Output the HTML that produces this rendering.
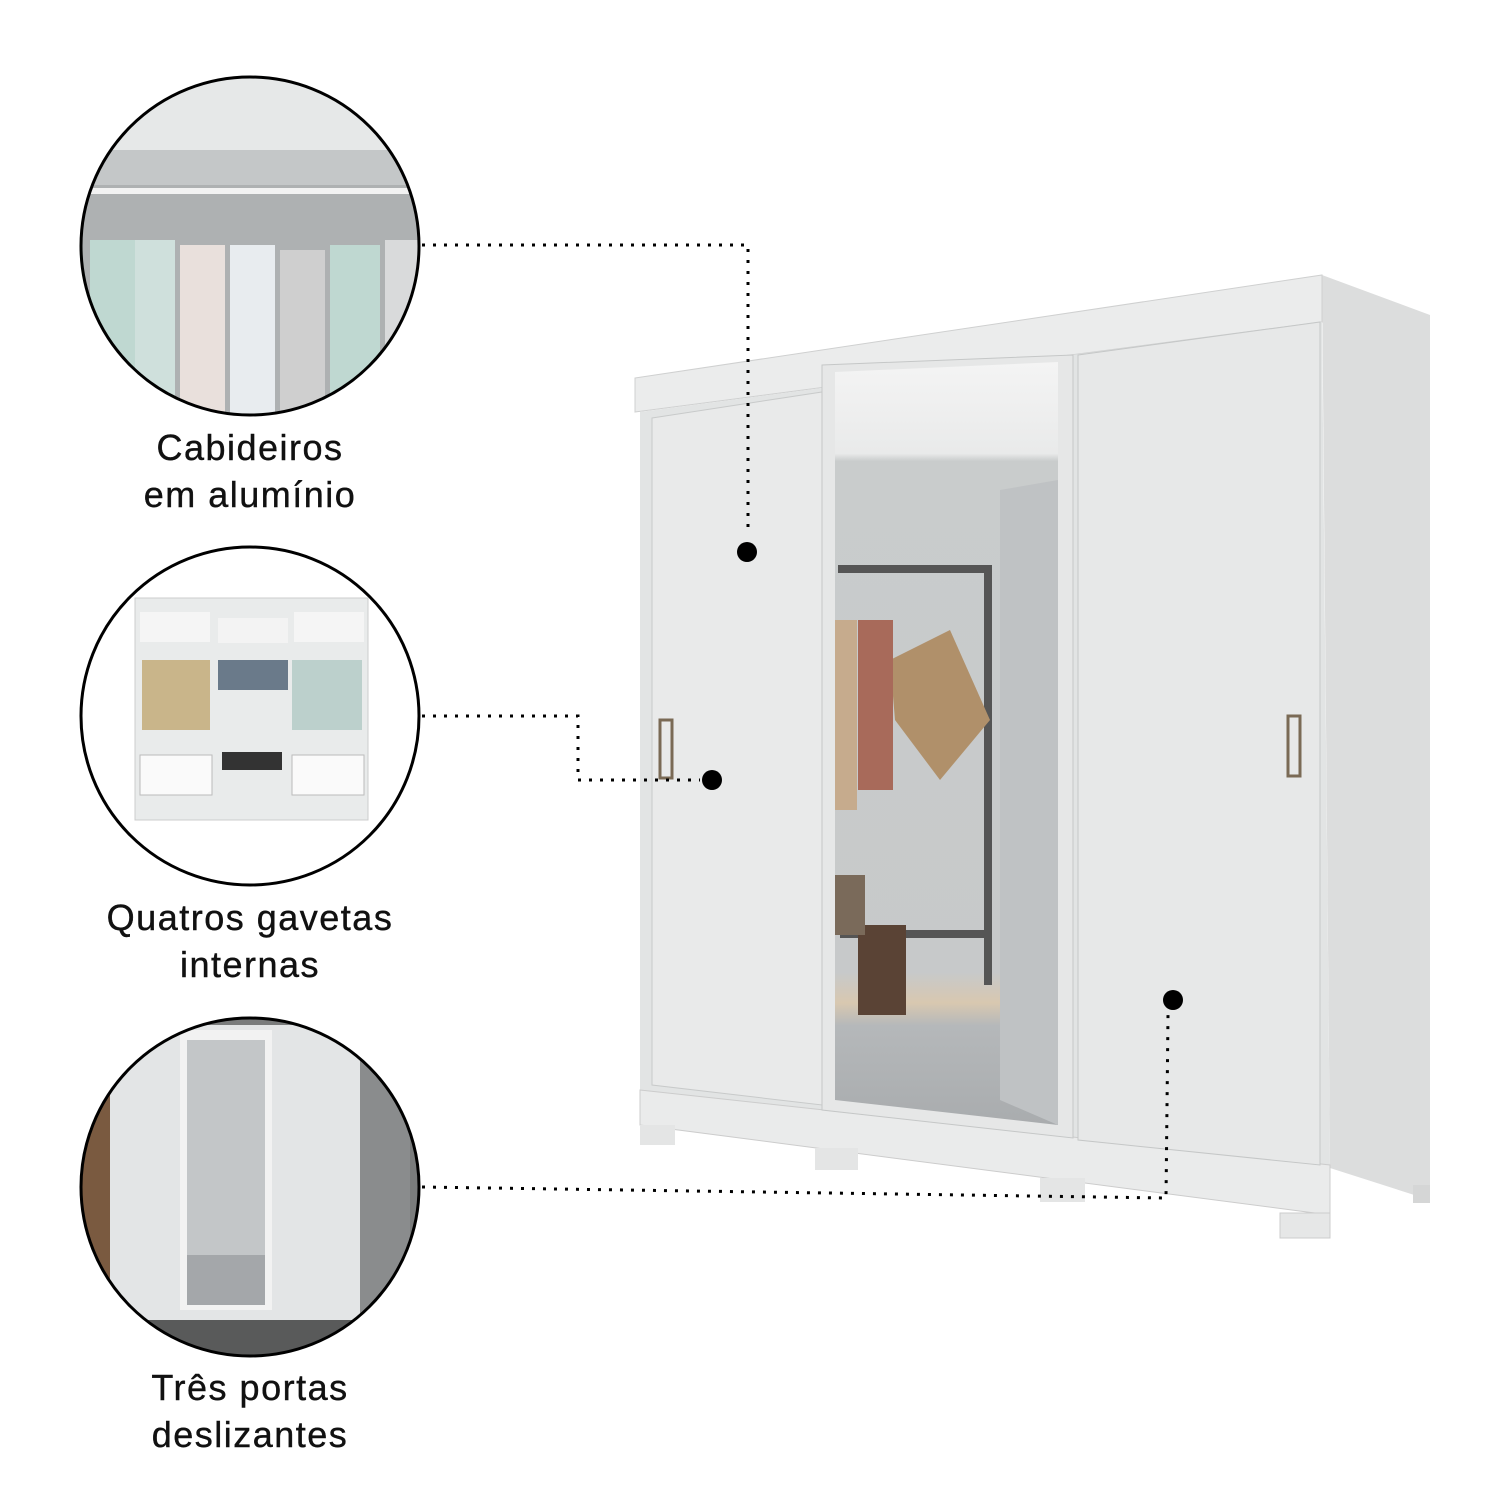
<!DOCTYPE html>
<html><head><meta charset="utf-8"><style>
html,body{margin:0;padding:0;background:#fff}
.l{position:absolute;width:500px;text-align:center;font-family:"Liberation Sans",sans-serif;font-size:36px;line-height:47px;color:#111;letter-spacing:1.5px;-webkit-text-stroke:0.4px #111}
</style></head><body>
<div style="position:relative;width:1500px;height:1500px;overflow:hidden">
<svg width="1500" height="1500" viewBox="0 0 1500 1500" style="position:absolute;left:0;top:0">
<defs>
<clipPath id="c1"><circle cx="250" cy="246" r="169"/></clipPath>
<clipPath id="c2"><circle cx="250" cy="716" r="169"/></clipPath>
<clipPath id="c3"><circle cx="250" cy="1187" r="169"/></clipPath>
<linearGradient id="mir" x1="0" y1="0" x2="0" y2="1">
<stop offset="0" stop-color="#f4f4f4"/><stop offset="0.12" stop-color="#e9eaea"/><stop offset="0.13" stop-color="#c9cccc"/><stop offset="0.8" stop-color="#c7c9ca"/><stop offset="0.84" stop-color="#d8c8b0"/><stop offset="0.87" stop-color="#b5b8ba"/><stop offset="1" stop-color="#a9acae"/></linearGradient>
</defs>
<g clip-path="url(#c1)">
<rect x="60" y="60" width="380" height="380" fill="#aeb1b2"/>
<rect x="60" y="60" width="380" height="90" fill="#e6e8e8"/>
<rect x="60" y="150" width="380" height="35" fill="#c4c7c8"/>
<rect x="60" y="188" width="380" height="6" fill="#f2f2f2"/>
<g fill="#bfd8d1"><rect x="90" y="240" width="45" height="180"/><rect x="135" y="240" width="40" height="180" fill="#cfe0dc"/><rect x="180" y="245" width="45" height="180" fill="#e9e0dc"/><rect x="230" y="245" width="45" height="180" fill="#e8ecef"/><rect x="280" y="250" width="45" height="180" fill="#cfcfcf"/><rect x="330" y="245" width="50" height="180"/><rect x="385" y="240" width="40" height="180" fill="#d9dadb"/></g>
</g>
<circle cx="250" cy="246" r="169" fill="none" stroke="#000" stroke-width="3"/>
<g clip-path="url(#c2)">
<rect x="60" y="530" width="380" height="380" fill="#fff"/>
<rect x="135" y="598" width="233" height="222" fill="#e9ebeb" stroke="#ccc"/>
<rect x="140" y="612" width="70" height="30" fill="#f5f5f5"/><rect x="218" y="618" width="70" height="25" fill="#f3f3f3"/><rect x="294" y="612" width="70" height="30" fill="#f5f5f5"/>
<rect x="142" y="660" width="68" height="70" fill="#c9b58a"/><rect x="292" y="660" width="70" height="70" fill="#bcd0cc"/>
<rect x="218" y="660" width="70" height="30" fill="#6a7a8a"/>
<rect x="140" y="755" width="72" height="40" fill="#fafafa" stroke="#bbb"/><rect x="292" y="755" width="72" height="40" fill="#fafafa" stroke="#bbb"/>
<rect x="222" y="752" width="60" height="18" fill="#333"/>
</g>
<circle cx="250" cy="716" r="169" fill="none" stroke="#000" stroke-width="3"/>
<g clip-path="url(#c3)">
<rect x="60" y="1000" width="380" height="380" fill="#7a7c7c"/>
<rect x="80" y="1000" width="40" height="380" fill="#7a5a40"/>
<rect x="110" y="1025" width="290" height="320" fill="#e3e5e6"/>
<rect x="180" y="1030" width="92" height="280" fill="#f2f2f2"/>
<rect x="187" y="1040" width="78" height="265" fill="#c3c6c8"/>
<rect x="187" y="1255" width="78" height="50" fill="#a4a7aa"/>
<rect x="360" y="1025" width="50" height="320" fill="#8a8c8d"/>
<rect x="60" y="1320" width="380" height="60" fill="#595a5a"/>
</g>
<circle cx="250" cy="1187" r="169" fill="none" stroke="#000" stroke-width="3"/>
<polygon points="1322,275 1430,315 1430,1200 1330,1168" fill="#dcdddd"/>
<polygon points="635,378 1322,275 1322,322 635,412" fill="#ebecec" stroke="#cfd0d0"/>
<polygon points="640,412 1322,322 1330,1168 1330,1215 640,1125" fill="#e2e4e4"/>
<polygon points="640,1090 1330,1165 1330,1215 640,1125" fill="#eaebeb" stroke="#ccc"/>
<rect x="640" y="1125" width="35" height="20" fill="#e4e5e5"/>
<rect x="815" y="1148" width="43" height="22" fill="#e4e5e5"/>
<rect x="1040" y="1178" width="45" height="24" fill="#e4e5e5"/>
<rect x="1280" y="1213" width="50" height="25" fill="#e6e7e7" stroke="#ccc"/>
<rect x="1413" y="1185" width="17" height="18" fill="#d5d6d6"/>
<polygon points="652,418 822,392 822,1105 652,1085" fill="#e9eaea" stroke="#c8caca"/>
<polygon points="822,365 1073,355 1073,1138 822,1110" fill="#e6e7e7" stroke="#c5c7c7"/>
<polygon points="835,372 1058,362 1058,1125 835,1100" fill="url(#mir)"/>
<polygon points="1000,490 1058,480 1058,1125 1000,1100" fill="#bfc2c4"/>
<polygon points="1078,355 1320,322 1320,1165 1078,1140" fill="#e7e8e8" stroke="#c5c7c7"/>
<rect x="838" y="565" width="150" height="8" fill="#555"/>
<rect x="984" y="565" width="8" height="420" fill="#555"/>
<rect x="840" y="930" width="150" height="8" fill="#555"/>
<polygon points="890,660 950,630 990,720 940,780 895,720" fill="#b0906a"/>
<rect x="858" y="620" width="35" height="170" fill="#a86a5a"/>
<rect x="835" y="620" width="22" height="190" fill="#c6ab8d"/>
<rect x="858" y="925" width="48" height="90" fill="#5a4335"/>
<rect x="835" y="875" width="30" height="60" fill="#7a6a5a"/>
<rect x="660" y="720" width="12" height="58" fill="none" stroke="#7a6a55" stroke-width="3"/>
<rect x="1288" y="716" width="12" height="60" fill="none" stroke="#7a6a55" stroke-width="3"/>
<g stroke="#000" stroke-width="3" stroke-dasharray="3 8" fill="none">
<polyline points="422,245 748,245 748,535"/>
<polyline points="422,716 578,716 578,780 700,780"/>
<polyline points="422,1187 1166,1198 1168,1015"/>
</g>
<circle cx="747" cy="552" r="10" fill="#000"/>
<circle cx="712" cy="780" r="10" fill="#000"/>
<circle cx="1173" cy="1000" r="10" fill="#000"/>
</svg>
<div class="l" style="left:0;top:424px">Cabideiros<br>em alumínio</div>
<div class="l" style="left:0;top:894px">Quatros gavetas<br>internas</div>
<div class="l" style="left:0;top:1364px">Três portas<br>deslizantes</div>
</div>
</body></html>
